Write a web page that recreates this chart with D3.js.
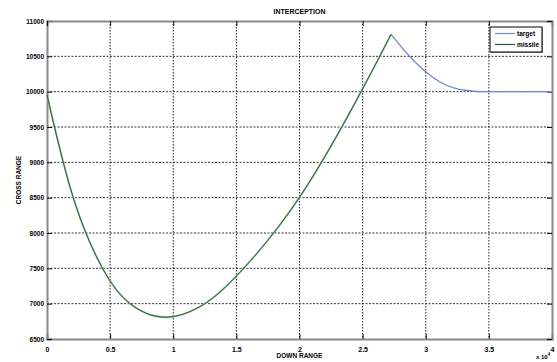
<!DOCTYPE html>
<html>
<head>
<meta charset="utf-8">
<script src="https://cdn.jsdelivr.net/npm/d3@7"></script>
<style>
  body { margin: 0; background: #fff; overflow: hidden; }
  svg { display: block; }
  text { font-family: "Liberation Sans", Arial, sans-serif; font-weight: bold; fill: #000; }
</style>
</head>
<body>
<div id="chart"></div>
<script>
// interception chart: target vs missile path
const width = 557, height = 362;
const margin = { top: 21, right: 5, bottom: 23, left: 47 };
const innerWidth = width - margin.left - margin.right;
const innerHeight = height - margin.top - margin.bottom;

// missile path (down range, cross range) up to intercept
const missileDown = [0, 2080, 4400, 6580, 9300, 12100, 15000, 20000, 24950, 27250];
const missileCross = [9955, 8500, 7500, 7000, 6808, 6957, 7391, 8505, 10024, 10811];
// target after the intercept point
const targetDownAfter = [27250, 28700, 30000, 31600, 32650, 33440, 34500, 40000];
const targetCrossAfter = [10811, 10505, 10283, 10094, 10033, 10014, 10000, 10000];

const xTicks = [0, 5000, 10000, 15000, 20000, 25000, 30000, 35000, 40000];
const yTicks = [6500, 7000, 7500, 8000, 8500, 9000, 9500, 10000, 10500, 11000];
const seriesNames = ["target", "missile"];
const seriesColors = ["#7088cf", "#1e5a2c"];

const missile = missileDown.map((d, i) => ({ x: d, y: missileCross[i] }));
const targetTail = targetDownAfter.map((d, i) => ({ x: d, y: targetCrossAfter[i] }));

const svg = d3.select("#chart").append("svg")
  .attr("width", width).attr("height", height);

const g = svg.append("g")
  .attr("transform", `translate(${margin.left},${margin.top})`);

const xScale = d3.scaleLinear().domain([0, 40000]).range([0, innerWidth]);
const yScale = d3.scaleLinear().domain([6500, 11000]).range([innerHeight, 0]);

// grid
g.append("g").selectAll("line")
  .data(xTicks.slice(1, -1))
  .join("line")
  .attr("x1", d => xScale(d)).attr("x2", d => xScale(d))
  .attr("y1", 0).attr("y2", innerHeight)
  .attr("stroke", "#222").attr("stroke-width", 1).attr("stroke-dasharray", "1.5,1.5");

g.append("g").selectAll("line")
  .data(yTicks.slice(1, -1))
  .join("line")
  .attr("x1", 0).attr("x2", innerWidth)
  .attr("y1", d => yScale(d)).attr("y2", d => yScale(d))
  .attr("stroke", "#333").attr("stroke-width", 1).attr("stroke-dasharray", "2,1.5");

// axes
const xAxis = g.append("g")
  .attr("transform", `translate(0,${innerHeight})`)
  .call(d3.axisBottom(xScale).tickValues(xTicks).tickSize(-5).tickPadding(8)
    .tickFormat(d => d / 10000));
const yAxis = g.append("g")
  .call(d3.axisLeft(yScale).tickValues(yTicks).tickSize(-5).tickPadding(3)
    .tickFormat(d3.format("d")));
const topAxis = g.append("g")
  .call(d3.axisTop(xScale).tickValues(xTicks).tickSize(-5));
const rightAxis = g.append("g")
  .attr("transform", `translate(${innerWidth},0)`)
  .call(d3.axisRight(yScale).tickValues(yTicks).tickSize(-5));
topAxis.selectAll("text").remove();
rightAxis.selectAll("text").remove();

g.selectAll(".domain").attr("stroke", "#888").attr("stroke-width", 2);
g.selectAll(".tick line").attr("stroke", "#111");
xAxis.selectAll("text").attr("font-size", "7px").attr("font-weight", "bold");
yAxis.selectAll("text").attr("font-size", "6.5px").attr("font-weight", "bold");

// lines
const smoothLine = d3.line()
  .x(d => xScale(d.x))
  .y(d => yScale(d.y))
  .curve(d3.curveNatural);
const tailLine = d3.line()
  .x(d => xScale(d.x))
  .y(d => yScale(d.y))
  .curve(d3.curveMonotoneX);

// target follows the same path until intercept, then bends away
g.append("path")
  .attr("d", smoothLine(missile))
  .attr("fill", "none").attr("stroke", "#8fb894").attr("stroke-width", 1.8);
g.append("path")
  .attr("d", tailLine(targetTail))
  .attr("fill", "none").attr("stroke", seriesColors[0]).attr("stroke-width", 1.3);
g.append("path")
  .attr("d", smoothLine(missile))
  .attr("fill", "none").attr("stroke", seriesColors[1]).attr("stroke-width", 0.9);

// labels
svg.append("text")
  .text("INTERCEPTION")
  .attr("x", margin.left + innerWidth / 2).attr("y", 14)
  .attr("text-anchor", "middle").attr("font-size", "7px");

svg.append("text")
  .text("DOWN RANGE")
  .attr("x", margin.left + innerWidth / 2).attr("y", 358)
  .attr("text-anchor", "middle").attr("font-size", "6.5px");

svg.append("text")
  .text("CROSS RANGE")
  .attr("transform", `translate(21,${margin.top + innerHeight / 2}) rotate(-90)`)
  .attr("text-anchor", "middle").attr("font-size", "6.5px");

const expo = svg.append("text")
  .attr("x", 536).attr("y", 359).attr("font-size", "6px");
expo.append("tspan").text("x 10");
expo.append("tspan").text("4").attr("dy", -3).attr("font-size", "4.5px");

// legend
const legend = svg.append("g").attr("transform", "translate(490,27)");
legend.append("rect")
  .attr("x", 1).attr("y", 1).attr("width", 52).attr("height", 25)
  .attr("fill", "#999");
legend.append("rect")
  .attr("width", 52).attr("height", 25)
  .attr("fill", "#fff").attr("stroke", "#000").attr("stroke-width", 1);
seriesNames.forEach((name, i) => {
  const y = 6.5 + i * 11;
  legend.append("line")
    .attr("x1", 5).attr("x2", 25).attr("y1", y).attr("y2", y)
    .attr("stroke", seriesColors[i]).attr("stroke-width", 1.2);
  legend.append("text")
    .text(name)
    .attr("x", 27).attr("y", y + 2.3).attr("font-size", "6.5px");
});
</script>
</body>
</html>
